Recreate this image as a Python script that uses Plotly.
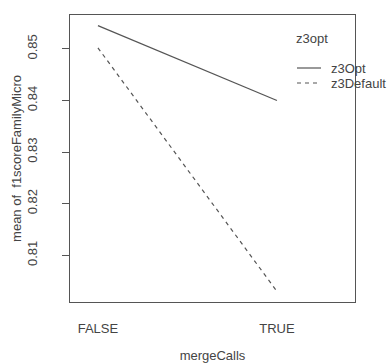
import plotly.graph_objects as go

categories = ["FALSE", "TRUE"]
z3Opt = [0.8545, 0.8400]
z3Default = [0.8502, 0.8030]
series_names = ["z3Opt", "z3Default"]
legend_title = "z3opt"
y_ticks = [0.81, 0.82, 0.83, 0.84, 0.85]

FONT = "Liberation Sans, Arial, sans-serif"
INK = "#444444"
LINE = "#555555"

x_pos = list(range(1, len(categories) + 1))

fig = go.Figure()
fig.add_trace(go.Scatter(x=x_pos, y=z3Opt, mode="lines", name=series_names[0],
                         line=dict(color=LINE, width=1.2, dash="solid")))
fig.add_trace(go.Scatter(x=x_pos, y=z3Default, mode="lines", name=series_names[1],
                         line=dict(color=LINE, width=1.2, dash="4px,4px")))

allv = z3Opt + z3Default
lo, hi = min(allv), max(allv)
pad = (hi - lo) * 0.04

fig.update_layout(
    width=387, height=363,
    margin=dict(l=70, r=32, t=15, b=61, autoexpand=False),
    paper_bgcolor="white", plot_bgcolor="white",
    showlegend=False,
    font=dict(family=FONT, size=13, color=INK),
    xaxis=dict(range=[0.844, 2.436], tickvals=x_pos, ticktext=categories,
               ticks="", showgrid=False, zeroline=False, automargin=False,
               showline=True, linecolor=LINE, linewidth=1.2, mirror=True,
               ticklabelstandoff=14,
               title=dict(text="mergeCalls", standoff=27, font=dict(size=13))),
    yaxis=dict(range=[lo - pad, hi + pad], tickvals=y_ticks,
               ticktext=[f"{v:.2f}" for v in y_ticks],
               tickangle=-90, ticks="outside", ticklen=7, tickcolor=LINE,
               showgrid=False, zeroline=False, automargin=False,
               showline=True, linecolor=LINE, linewidth=1.2, mirror=True,
               ticklabelstandoff=20,
               title=dict(text="mean of  f1scoreFamilyMicro", standoff=0,
                          font=dict(size=13))),
)

# legend drawn manually (R interaction.plot style)
def px_x(p):
    return (p - 70) / (387 - 70 - 32)

def px_y(p):
    return 1 - (p - 15) / (363 - 15 - 61)

fig.add_annotation(x=px_x(294), y=px_y(38), xref="paper", yref="paper",
                   text=legend_title, showarrow=False, xanchor="left",
                   yanchor="middle", font=dict(size=13, color=INK))
for i, (name, dash) in enumerate(zip(series_names, ["solid", "4px,4px"])):
    yy = px_y(68 + 15 * i)
    fig.add_shape(type="line", xref="paper", yref="paper",
                  x0=px_x(297), x1=px_x(321), y0=yy, y1=yy,
                  line=dict(color=LINE, width=1.2, dash=dash))
    fig.add_annotation(x=px_x(329), y=yy, xref="paper", yref="paper",
                       text=name, showarrow=False, xanchor="left",
                       yanchor="middle", font=dict(size=13, color=INK))

fig.write_html(
    "out.html",
    config={"displayModeBar": False},
    post_script="document.body.style.margin='0';document.body.style.overflow='hidden';",
)
